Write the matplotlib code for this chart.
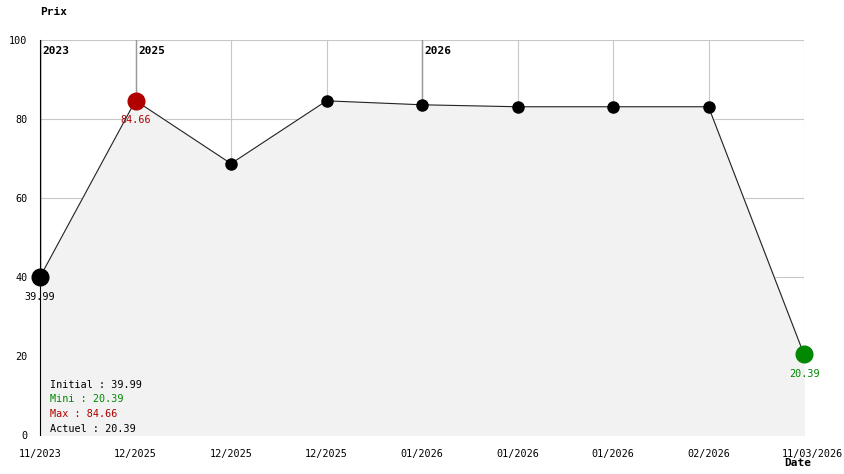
import matplotlib
matplotlib.use("Agg")
import matplotlib.pyplot as plt
from matplotlib.transforms import ScaledTranslation

dates = ["11/2023", "12/2025", "12/2025", "12/2025", "01/2026",
         "01/2026", "01/2026", "02/2026", "11/03/2026"]
prices = [39.99, 84.66, 68.7, 84.6, 83.6, 83.1, 83.1, 83.1, 20.39]
year_marks = [(0, "2023"), (1, "2025"), (4, "2026")]
y_ticks = [0, 20, 40, 60, 80, 100]

FONT = "DejaVu Sans Mono"
FS = 7.3
RED = "#b00000"
GREEN = "#008800"

fig = plt.figure(figsize=(8.44, 4.74), dpi=100)
W, H = 844, 474
ax = fig.add_axes([40 / W, (H - 435) / H, 764 / W, 395 / H])

x = list(range(len(prices)))
ax.set_xlim(0, len(prices) - 1)
ax.set_ylim(0, 100)

ax.fill_between(x, prices, 0, color="#f2f2f2", zorder=1)

# grid
for xi in x:
    ax.axvline(xi, color="#c8c8c8", lw=0.8, zorder=0)
for yv in y_ticks[1:]:
    ax.axhline(yv, color="#c8c8c8", lw=0.8, zorder=0)
for xi, yr in year_marks:
    ax.axvline(xi, color="#999999" if xi else "black", lw=1.0, zorder=0.5)
    ax.text(xi + 0.03, 97.2, yr, fontsize=8, family=FONT, fontweight="bold",
            va="center", ha="left")

ax.plot(x, prices, color="#222222", lw=0.8, zorder=2)

imax = prices.index(max(prices))
imin = prices.index(min(prices))
for i, p in enumerate(prices):
    if i == imax:
        c, s = RED, 12
    elif i == imin:
        c, s = GREEN, 12
    elif i == 0:
        c, s = "black", 12
    else:
        c, s = "black", 8
    ax.plot(i, p, "o", color=c, ms=s, zorder=3, clip_on=False)

for i, c in [(0, "black"), (imax, RED), (imin, GREEN)]:
    ax.text(i, prices[i] - 5.0, f"{prices[i]:.2f}", fontsize=FS, family=FONT,
            ha="center", va="center", color=c)

# summary
lines = [(f"Initial : {prices[0]:.2f}", "black"),
         (f"Mini : {min(prices):.2f}", GREEN),
         (f"Max : {max(prices):.2f}", RED),
         (f"Actuel : {prices[-1]:.2f}", "black")]
for k, (t, c) in enumerate(lines):
    fig.text(50 / W, 1 - (385 + 14.5 * k) / H, t, fontsize=FS, family=FONT,
             color=c, va="center", ha="left")

for s in ["top", "right", "bottom"]:
    ax.spines[s].set_visible(False)
ax.spines["left"].set_color("black")

ax.set_yticks(y_ticks)
ax.set_yticklabels([str(v) for v in y_ticks], family=FONT, fontsize=FS)
ax.set_xticks(x)
ax.set_xticklabels(dates, family=FONT, fontsize=FS)
ax.tick_params(length=0, pad=9)
ax.tick_params(axis="x", pad=10)
# last label pushed toward the right edge, kept inside the figure
last = ax.get_xticklabels()[-1]
last.set_ha("right")
last.set_transform(last.get_transform() + ScaledTranslation(39 / 100, 0, fig.dpi_scale_trans))

fig.text(40 / W, 1 - 12 / H, "Prix", fontsize=8, family=FONT,
         fontweight="bold", va="center", ha="left")
fig.text(798 / W, 1 - 463 / H, "Date", fontsize=8, family=FONT,
         fontweight="bold", va="center", ha="center")

fig.savefig("out.png", dpi=100, facecolor="white")
